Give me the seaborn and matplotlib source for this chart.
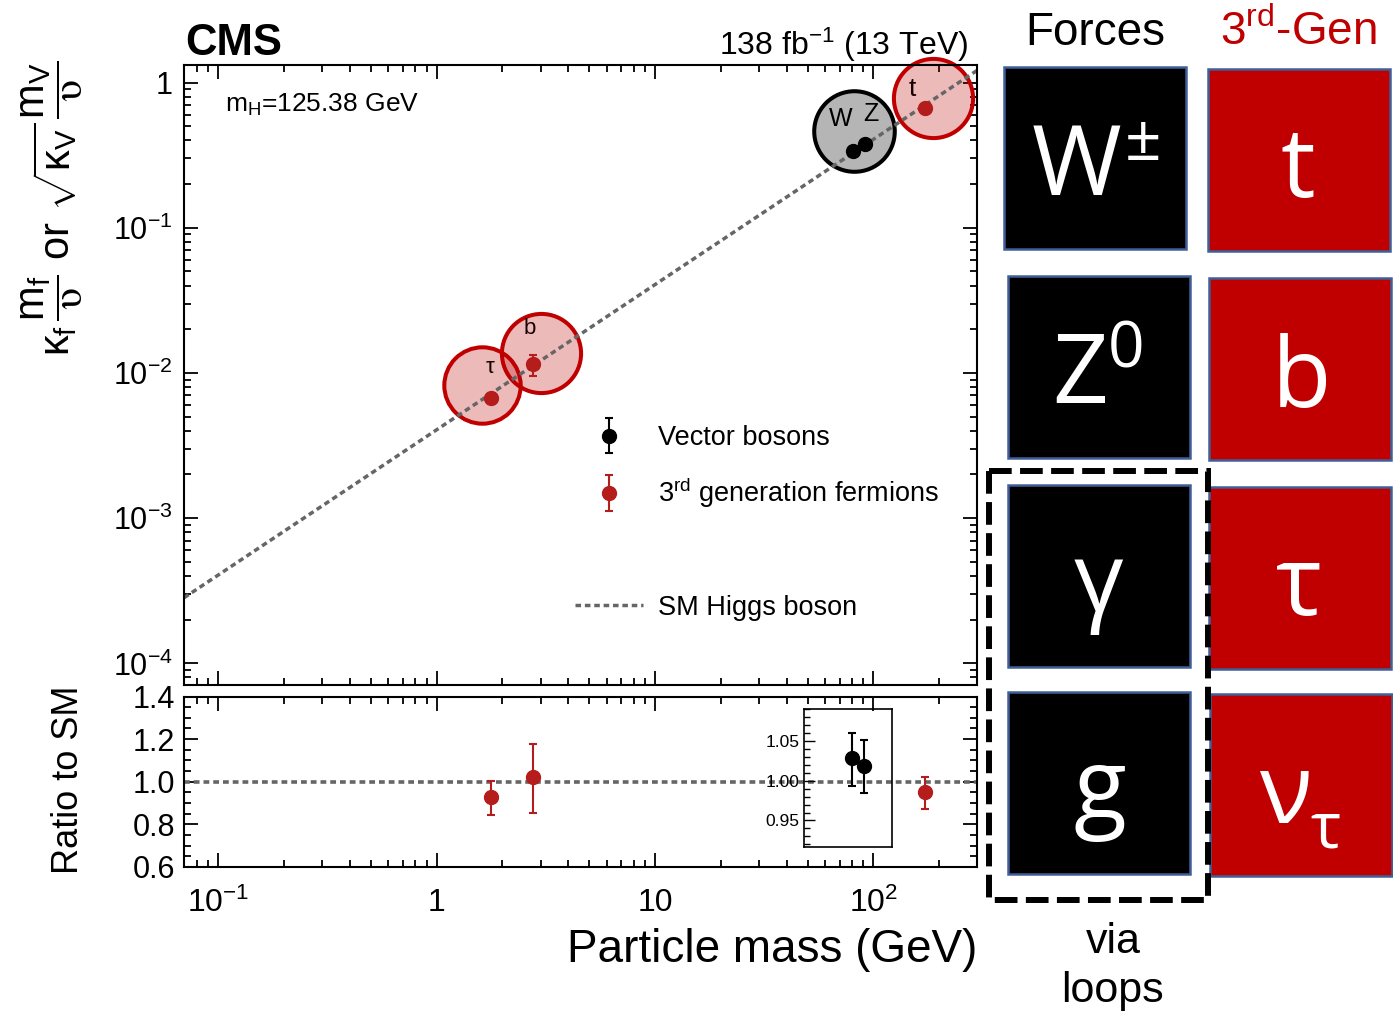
import numpy as np
import pandas as pd
import matplotlib
matplotlib.use("Agg")
import matplotlib.pyplot as plt
import matplotlib.ticker as mticker
import matplotlib.transforms as mtransforms
from matplotlib.patches import Rectangle
from matplotlib.container import ErrorbarContainer
from matplotlib.legend_handler import HandlerErrorbar
from matplotlib.lines import Line2D
import seaborn as sns

# Higgs vacuum expectation value (GeV)
VEV = 246.22

# Vector bosons: mass (GeV) and measured coupling ratio to the SM
boson_labels = ["W", "Z"]
boson_mass = [80.38, 91.19]
boson_ratio = [1.029, 1.018]
boson_err_up = [0.031, 0.033]
boson_err_dn = [0.036, 0.034]

# Third-generation fermions
fermion_labels = ["τ", "b", "t"]
fermion_mass = [1.777, 2.76, 172.5]
fermion_ratio = [0.927, 1.022, 0.953]
fermion_err_up = [0.078, 0.155, 0.070]
fermion_err_dn = [0.083, 0.169, 0.083]

# Axis ranges and tick labels
mass_range = [0.0697, 298.0]
coupling_range = [7.1e-5, 1.32]
ratio_range = [0.6, 1.4]
inset_mass_range = [48.0, 122.0]
inset_ratio_range = [0.917, 1.09]

xtick_values = [0.1, 1, 10, 100]
xtick_labels = [r"$10^{-1}$", "1", "10", r"$10^{2}$"]
ytick_values = [1e-4, 1e-3, 1e-2, 1e-1, 1]
ytick_labels = [r"$10^{-4}$", r"$10^{-3}$", r"$10^{-2}$", r"$10^{-1}$", "1"]
ratio_ticks = [0.6, 0.8, 1.0, 1.2, 1.4]
ratio_tick_labels = ["0.6", "0.8", "1.0", "1.2", "1.4"]
inset_ticks = [0.95, 1.00, 1.05]
inset_tick_labels = ["0.95", "1.00", "1.05"]

# Particle tiles on the right-hand side
force_symbols = ["W", "Z", "γ", "g"]
force_scripts = ["±", "0", "", ""]
gen3_symbols = ["t", "b", "τ", "ν"]
gen3_scripts = ["", "", "", "τ"]

RED = "#B51C1C"
TILE_RED = "#C00000"
GREY_LINE = "#666666"
SM_STYLE = (0, (1.6, 1.1))

sns.set_theme(style="ticks")
plt.rcParams.update({
    "font.family": ["Liberation Sans", "DejaVu Sans"],
    "mathtext.fontset": "custom",
    "mathtext.rm": "Liberation Sans",
    "mathtext.it": "Liberation Sans",
    "mathtext.bf": "Liberation Sans:bold",
    "mathtext.sf": "STIXGeneral",
    "axes.linewidth": 1.5,
    "axes.edgecolor": "black",
    "xtick.color": "black",
    "ytick.color": "black",
    "text.color": "black",
})

W, H = 1393, 1015
fig = plt.figure(figsize=(W / 100, H / 100), dpi=100)


def fx(px):
    return px / W


def fy(py):
    return 1 - py / H


def rect(x0, x1, y_top, y_bot):
    return [fx(x0), fy(y_bot), fx(x1) - fx(x0), fy(y_top) - fy(y_bot)]


ax = fig.add_axes(rect(184, 977, 65, 685))
axr = fig.add_axes(rect(184, 977, 696.5, 867))


def style_log_x(a):
    a.set_xscale("log")
    a.set_xlim(*mass_range)
    a.xaxis.set_major_locator(mticker.FixedLocator(xtick_values))
    a.xaxis.set_minor_locator(mticker.LogLocator(base=10, subs=np.arange(2, 10), numticks=20))


for a in (ax, axr):
    style_log_x(a)
    a.tick_params(which="both", direction="in", top=True, right=True, width=1.3, colors="black")
    a.tick_params(which="major", length=10)
    a.tick_params(which="minor", length=5)

# ---- main panel: reduced coupling vs mass ----
ax.set_yscale("log")
ax.set_ylim(*coupling_range)
ax.yaxis.set_major_locator(mticker.FixedLocator(ytick_values))
ax.yaxis.set_major_formatter(mticker.FixedFormatter(ytick_labels))
ax.yaxis.set_minor_locator(mticker.LogLocator(base=10, subs=np.arange(2, 10), numticks=20))
ax.yaxis.set_minor_formatter(mticker.NullFormatter())
ax.tick_params(axis="x", labelbottom=False)
ax.tick_params(axis="y", labelsize=22, pad=8)

sm = pd.DataFrame({"mass": mass_range})
sm["coupling"] = sm["mass"] / VEV
sns.lineplot(data=sm, x="mass", y="coupling", ax=ax, color=GREY_LINE, lw=2.5,
             linestyle=SM_STYLE, legend=False, errorbar=None, zorder=2)
ax.set_xlabel("")
ax.set_ylabel("")

bm, br = np.array(boson_mass), np.array(boson_ratio)
b_up, b_dn = np.array(boson_err_up), np.array(boson_err_dn)
fm, fr = np.array(fermion_mass), np.array(fermion_ratio)
f_up, f_dn = np.array(fermion_err_up), np.array(fermion_err_dn)

b_y = br * bm / VEV
f_y = fr * fm / VEV

eb_v = ax.errorbar(bm, b_y, yerr=[b_dn * bm / VEV, b_up * bm / VEV], fmt="o",
                   color="black", ms=10, elinewidth=1.5, capsize=3, capthick=1.5, zorder=4)
eb_f = ax.errorbar(fm, f_y, yerr=[f_dn * fm / VEV, f_up * fm / VEV], fmt="o",
                   color=RED, ms=10, elinewidth=1.5, capsize=3, capthick=1.5, zorder=4)


def highlight(x, y, dx, dy, size, face, edge):
    tr = mtransforms.offset_copy(ax.transData, fig=fig, x=dx, y=dy, units="points")
    ax.plot([x], [y], marker="o", ms=size, mfc=face, mec=edge, mew=2.9,
            linestyle="none", transform=tr, zorder=1, clip_on=False)


red_face = (0.75, 0.0, 0.0, 0.27)
highlight(fm[0], f_y[0], -6.5, 9.9, 55, red_face, TILE_RED)
highlight(fm[1], f_y[1], 6.0, 7.9, 57, red_face, TILE_RED)
highlight(fm[2], f_y[2], 6.0, 7.1, 57, red_face, TILE_RED)
highlight(bm[0], b_y[0], 1.1, 14.3, 58, (0.0, 0.0, 0.0, 0.29), "black")

label_offsets_f = [(-1.2, 22.1, 16), (-2.4, 25.9, 16), (-9.4, 13.9, 19)]
for name, m, y, (dx, dy, fs) in zip(fermion_labels, fm, f_y, label_offsets_f):
    ax.annotate(name, xy=(m, y), xytext=(dx, dy), textcoords="offset points",
                ha="center", va="center", fontsize=fs, color="#1a0000", zorder=3)
label_offsets_b = [(-8.9, 23.3), (4.6, 21.6)]
for name, m, y, (dx, dy) in zip(boson_labels, bm, b_y, label_offsets_b):
    ax.annotate(name, xy=(m, y), xytext=(dx, dy), textcoords="offset points",
                ha="center", va="center", fontsize=18, color="black", zorder=3)

ax.text(fx(225), fy(112), r"m$_{\mathrm{H}}$=125.38 GeV", transform=fig.transFigure,
        fontsize=19, ha="left", va="baseline")

# legend with an empty spacer row before the SM line entry
gen_label = r"3$^{\mathrm{rd}}$ generation fermions"
blank = Line2D([], [], linestyle="none")
sm_handle = Line2D([], [], color=GREY_LINE, lw=2.5, linestyle=SM_STYLE)
leg = ax.legend([eb_v, eb_f, blank, sm_handle],
                ["Vector bosons", gen_label, gen_label, "SM Higgs boson"],
                loc="upper left", bbox_to_anchor=(fx(575), fy(425)), bbox_transform=fig.transFigure,
                frameon=False, fontsize=19.5, handlelength=2.5, handletextpad=0.55,
                labelspacing=0.92, borderpad=0, borderaxespad=0,
                handler_map={ErrorbarContainer: HandlerErrorbar(xerr_size=0.65)})
leg.get_texts()[2].set_visible(False)

# ---- ratio panel ----
axr.set_ylim(*ratio_range)
axr.yaxis.set_major_locator(mticker.FixedLocator(ratio_ticks))
axr.yaxis.set_major_formatter(mticker.FixedFormatter(ratio_tick_labels))
axr.yaxis.set_minor_locator(mticker.MultipleLocator(0.05))
axr.xaxis.set_major_formatter(mticker.FixedFormatter(xtick_labels))
axr.xaxis.set_minor_formatter(mticker.NullFormatter())
axr.tick_params(axis="y", labelsize=22, pad=6.5)
axr.tick_params(axis="x", labelsize=23, pad=15)

ratio_line = pd.DataFrame({"mass": mass_range, "ratio": [1.0, 1.0]})
sns.lineplot(data=ratio_line, x="mass", y="ratio", ax=axr, color=GREY_LINE, lw=2.6,
             linestyle=SM_STYLE, legend=False, errorbar=None, zorder=2)
axr.set_xlabel("")
axr.set_ylabel("")
axr.errorbar(fm, fr, yerr=[f_dn, f_up], fmt="o", color=RED, ms=10,
             elinewidth=1.5, capsize=3, capthick=1.5, zorder=4)

# inset zoom for the vector bosons
axi = fig.add_axes(rect(804, 891.7, 709.3, 846.7), facecolor="none")
axi.set_xscale("log")
axi.set_xlim(*inset_mass_range)
axi.set_ylim(*inset_ratio_range)
axi.xaxis.set_major_locator(mticker.NullLocator())
axi.xaxis.set_minor_locator(mticker.NullLocator())
axi.yaxis.set_major_locator(mticker.FixedLocator(inset_ticks))
axi.yaxis.set_major_formatter(mticker.FixedFormatter(inset_tick_labels))
axi.yaxis.set_minor_locator(mticker.MultipleLocator(0.01))
axi.tick_params(which="both", direction="in", left=True, right=False, width=1.0, labelsize=12.5, pad=3)
axi.tick_params(which="major", length=8)
axi.tick_params(which="minor", length=4)
for s in axi.spines.values():
    s.set_linewidth(1.2)
axi.errorbar(bm, br, yerr=[b_dn, b_up], fmt="o", color="black", ms=10,
             elinewidth=1.5, capsize=3, capthick=1.5, zorder=4)

# ---- titles and axis labels ----
fig.text(fx(185), fy(55), "CMS", fontsize=31.5, fontweight="bold", ha="left", va="baseline")
fig.text(fx(968), fy(55), r"138 fb$^{-1}$ (13 TeV)", fontsize=23, ha="right", va="baseline")
fig.text(fx(52), fy(208),
         r"$\kappa_{\mathrm{f}}\,\dfrac{m_{\mathrm{f}}}{\mathsf{\upsilon}}$ or "
         r"$\sqrt{\kappa_{\mathrm{V}}}\,\dfrac{m_{\mathrm{V}}}{\mathsf{\upsilon}}$",
         rotation=90, fontsize=30, ha="center", va="center")
fig.text(fx(68), fy(780), "Ratio to SM", rotation=90, fontsize=26, ha="center", va="center")
fig.text(fx(977), fy(962), "Particle mass (GeV)", fontsize=33, ha="right", va="baseline")

# ---- particle tiles ----
pan = fig.add_axes([0, 0, 1, 1], facecolor="none")
pan.set_xlim(0, W)
pan.set_ylim(H, 0)
pan.axis("off")

TILE = 182
force_tiles = [(1004, 67), (1008, 276), (1008, 485), (1008, 692)]
gen3_tiles = [(1208, 69), (1209, 278), (1209, 487), (1210, 694)]
for (x0, y0) in force_tiles:
    pan.add_patch(Rectangle((x0, y0), TILE, TILE, facecolor="black", edgecolor="#3F5F98", lw=1.8, zorder=1))
for (x0, y0) in gen3_tiles:
    pan.add_patch(Rectangle((x0, y0), TILE, TILE, facecolor=TILE_RED, edgecolor="#3F5F98", lw=1.8, zorder=1))

tile_font = "Open Sans"
force_anchor = [(1076, 195), (1080, 403), (1098, 612), (1100, 819)]
force_script_anchor = [(1125, 160), (1108, 368), None, None]
gen3_anchor = [(1298, 197), (1301, 407), (1299, 615), (1285, 823)]
gen3_script_anchor = [None, None, None, (1310, 847)]

for sym, scr, (x, y), sa in zip(force_symbols, force_scripts, force_anchor, force_script_anchor):
    pan.text(x, y, sym, fontsize=70, family=tile_font, color="white", ha="center", va="baseline", zorder=2)
    if scr and sa:
        pan.text(sa[0], sa[1], scr, fontsize=46, family=tile_font, color="white", ha="left", va="baseline", zorder=2)
for sym, scr, (x, y), sa in zip(gen3_symbols, gen3_scripts, gen3_anchor, gen3_script_anchor):
    pan.text(x, y, sym, fontsize=70, family=tile_font, color="white", ha="center", va="baseline", zorder=2)
    if scr and sa:
        pan.text(sa[0], sa[1], scr, fontsize=46, family=tile_font, color="white", ha="left", va="baseline", zorder=2)

pan.add_patch(Rectangle((989, 471), 219, 429, fill=False, edgecolor="black", lw=4.3,
                        linestyle=(0, (3.8, 1.4)), zorder=3))

pan.text(1095, 45, "Forces", fontsize=33, ha="center", va="baseline")
pan.text(1298, 45, r"3$^{\mathrm{rd}}$-Gen", fontsize=33, color=TILE_RED, ha="center", va="baseline")
pan.text(1113, 953, "via", fontsize=31, ha="center", va="baseline")
pan.text(1112, 1002, "loops", fontsize=31, ha="center", va="baseline")

fig.savefig("out.png", dpi=100)
